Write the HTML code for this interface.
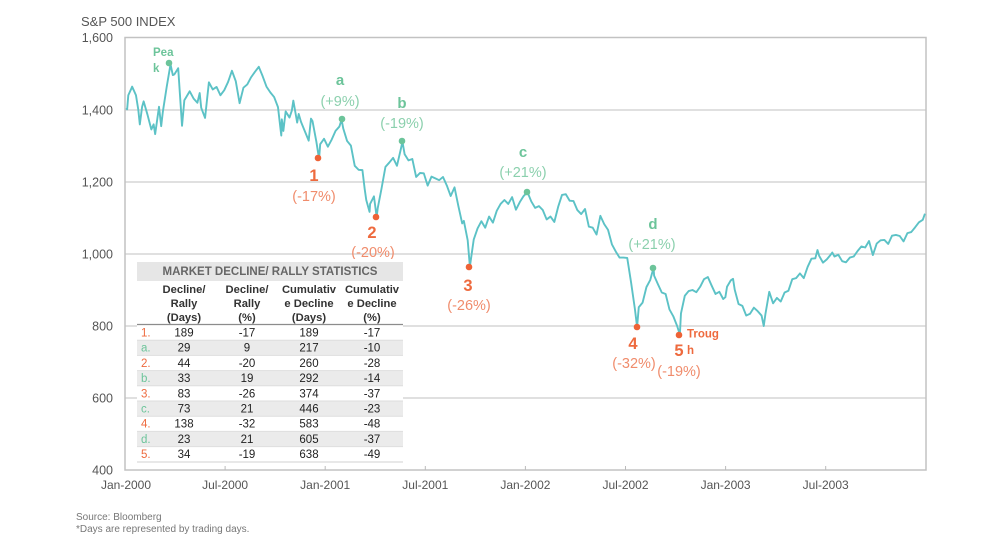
<!DOCTYPE html>
<html>
<head>
<meta charset="utf-8">
<style>
  html,body{margin:0;padding:0;background:#fff;}
  body{width:1005px;height:537px;overflow:hidden;}
  svg{display:block;font-family:"Liberation Sans",Arial,sans-serif;}
</style>
</head>
<body>
<svg width="1005" height="537" viewBox="0 0 1005 537" xmlns="http://www.w3.org/2000/svg">
  <rect width="1005" height="537" fill="#fff"/>

  <!-- title -->
  <text x="81" y="26" font-size="13" fill="#555">S&amp;P 500 INDEX</text>

  <!-- gridlines -->
  <g stroke="#cdcdcd" stroke-width="1.3">
    <line x1="125" y1="110" x2="926" y2="110"/>
    <line x1="125" y1="182" x2="926" y2="182"/>
    <line x1="125" y1="254" x2="926" y2="254"/>
    <line x1="125" y1="326" x2="926" y2="326"/>
    <line x1="125" y1="398" x2="926" y2="398"/>
  </g>
  <!-- frame -->
  <rect x="125" y="37.5" width="801" height="432.5" fill="none" stroke="#c2c2c2" stroke-width="1.5"/>
  <!-- ticks -->
  <g stroke="#bbb" stroke-width="1">
    <line x1="225.1" y1="466" x2="225.1" y2="470"/>
    <line x1="325.2" y1="466" x2="325.2" y2="470"/>
    <line x1="425.3" y1="466" x2="425.3" y2="470"/>
    <line x1="525.4" y1="466" x2="525.4" y2="470"/>
    <line x1="625.5" y1="466" x2="625.5" y2="470"/>
    <line x1="725.6" y1="466" x2="725.6" y2="470"/>
    <line x1="825.7" y1="466" x2="825.7" y2="470"/>
  </g>

  <!-- y labels -->
  <g font-size="12.5" fill="#555" text-anchor="end">
    <text x="113" y="42">1,600</text>
    <text x="113" y="114.5">1,400</text>
    <text x="113" y="186.5">1,200</text>
    <text x="113" y="258.5">1,000</text>
    <text x="113" y="330.5">800</text>
    <text x="113" y="402.5">600</text>
    <text x="113" y="474.5">400</text>
  </g>
  <!-- x labels -->
  <g font-size="12" fill="#555" text-anchor="middle">
    <text x="126" y="489">Jan-2000</text>
    <text x="225.1" y="489">Jul-2000</text>
    <text x="325.2" y="489">Jan-2001</text>
    <text x="425.3" y="489">Jul-2001</text>
    <text x="525.4" y="489">Jan-2002</text>
    <text x="625.5" y="489">Jul-2002</text>
    <text x="725.6" y="489">Jan-2003</text>
    <text x="825.7" y="489">Jul-2003</text>
  </g>

  <!-- series -->
  <g transform="matrix(3.838 0 0 -0.36 128.3 614)">
    <polyline fill="none" stroke="#5cc2c6" stroke-width="1.9" vector-effect="non-scaling-stroke" stroke-linejoin="round"
      points="-0.57,1405 -0.3,1402 0,1441 0.6,1455 1,1465 2,1441 2.6,1401 3,1360 3.6,1409 4,1424 5,1387 6,1346 6.6,1360 7,1333 8,1409 8.57,1355 9,1395 10,1464 11,1527 11.6,1497 12,1499 13,1516 14,1356 14.6,1427 15,1434 16,1452 17,1432 18,1420 18.6,1447 19,1406 20,1378 21,1477 22,1457 23,1464 24,1441 25,1455 26,1478 27,1509 28,1480 29,1419 30,1462 31,1471 32,1491 33,1506 34,1520 35,1494 36,1465 37,1449 38,1436 39,1408 39.86,1329 40,1374 40.4,1342 41,1396 42,1379 42.6,1398 43,1426 44,1365 44.4,1389 45,1367 46,1341 47,1315 47.6,1376 48,1369 49,1312 49.71,1264 50,1305 51,1320
      52,1298 53,1318 54,1342 55,1354 55.57,1373 56,1349 57,1314 58,1301 59,1245 60,1234 61,1233 61.6,1180 62,1150 62.86,1117 63,1139 64,1160 64.71,1103 65,1128 66,1183 67,1242 68,1254 69,1267 70,1245 71,1291 71.43,1312 72,1277 73,1260 74,1264 75,1214 76,1225 77,1224 78,1190 79,1215 80,1210 81,1205 82,1214 83,1190 84,1161 85,1185 86,1133 87,1085 87.43,1092 88.43,1038 89,965 90,1040 91,1071 92,1091 93,1073 94,1104 95,1087 96,1120 97,1139 98,1150 99,1139 100,1158 101,1123 102,1144 103,1161
      104,1172 105,1146 106,1128 107,1133 108,1122 109,1096 110,1104 111,1089 112,1131 113,1164 114,1166 115,1148 116,1147 117,1122 118,1111 119,1125 120,1076 121,1073 122,1054 123,1106 124,1083 125,1067 126,1027 127,1007 128,990 129,990 130,989 131,921 132,847 132.57,797 133,852 134,865 135,908 136,928 136.86,962 137,940 138,916 139,893 140,889 141,846 142,827 143,800 143.71,776 144,835 145,884 146,897 147,900 148,894 149,909 150,930 151,936 152,912 153,889 154,895 155,875 155.57,880
      156,909 157,927 157.57,931 158,901 159,861 160,856 161,829 162,834 163,851 164,841 165,829 165.57,800 166,833 167,895 168,863 169,878 170,868 171,893 172,898 173,930 174,933 175,946 176,933 177,964 178,987 179,988 179.57,1011 180,995 181,976 182,985 183,998 183.43,1004 184,993 185,998 186,980 187,977 188,990 189,993 190,1008 191,1021 192,1018 193,1036 194,997 195,1029 196,1038 197,1039 198,1028 199,1051 200,1053 201,1050 202,1035 203,1058 204,1061 205,1074 206,1088 207,1095 207.57,1112"/>
  </g>

  <!-- dots -->
  <g fill="#6cc49a">
    <circle cx="169" cy="63" r="3.3"/>
    <circle cx="342" cy="119" r="3.3"/>
    <circle cx="402" cy="141" r="3.3"/>
    <circle cx="527" cy="192" r="3.3"/>
    <circle cx="653" cy="268" r="3.3"/>
  </g>
  <g fill="#ee6236">
    <circle cx="318" cy="158" r="3.3"/>
    <circle cx="376" cy="217" r="3.3"/>
    <circle cx="469" cy="267" r="3.3"/>
    <circle cx="637" cy="327" r="3.3"/>
    <circle cx="679" cy="335" r="3.3"/>
  </g>

  <!-- green annotations -->
  <g fill="#6cc49a" font-weight="bold">
    <text x="153" y="56" font-size="11.5">Pea</text>
    <text x="153" y="72" font-size="11.5">k</text>
    <g font-size="15" text-anchor="middle">
      <text x="340" y="85">a</text>
      <text x="402" y="108">b</text>
      <text x="523" y="157">c</text>
      <text x="653" y="229">d</text>
    </g>
  </g>
  <g fill="#8bd0ad" font-size="14.5" text-anchor="middle">
    <text x="340" y="106">(+9%)</text>
    <text x="402" y="128">(-19%)</text>
    <text x="523" y="177">(+21%)</text>
    <text x="652" y="249">(+21%)</text>
  </g>

  <!-- orange annotations -->
  <g fill="#ee6a3e" font-weight="bold" font-size="16.5" text-anchor="middle">
    <text x="314" y="181">1</text>
    <text x="372" y="238">2</text>
    <text x="468" y="291">3</text>
    <text x="633" y="349">4</text>
    <text x="679" y="356">5</text>
  </g>
  <g fill="#ee6a3e" font-weight="bold" font-size="11.5">
    <text x="687" y="337.5">Troug</text>
    <text x="687" y="354">h</text>
  </g>
  <g fill="#f08c6c" font-size="14.5" text-anchor="middle">
    <text x="314" y="201">(-17%)</text>
    <text x="373" y="257">(-20%)</text>
    <text x="469" y="310">(-26%)</text>
    <text x="634" y="368">(-32%)</text>
    <text x="679" y="376">(-19%)</text>
  </g>

  <!-- table -->
  <rect x="137" y="259" width="266" height="207" fill="#fff"/>
  <rect x="137" y="262" width="266" height="19" fill="#e6e6e6"/>
  <text x="270" y="275" font-size="11.5" font-weight="bold" fill="#666" text-anchor="middle">MARKET DECLINE/ RALLY STATISTICS</text>
  <g font-size="11.2" font-weight="bold" fill="#333" text-anchor="middle">
    <text x="184" y="293">Decline/</text>
    <text x="184" y="307">Rally</text>
    <text x="184" y="321">(Days)</text>
    <text x="247" y="293">Decline/</text>
    <text x="247" y="307">Rally</text>
    <text x="247" y="321">(%)</text>
    <text x="309" y="293">Cumulativ</text>
    <text x="309" y="307">e Decline</text>
    <text x="309" y="321">(Days)</text>
    <text x="372" y="293">Cumulativ</text>
    <text x="372" y="307">e Decline</text>
    <text x="372" y="321">(%)</text>
  </g>
  <!-- row backgrounds -->
  <g fill="#ebebeb">
    <rect x="137" y="340.2" width="266" height="15.2"/>
    <rect x="137" y="370.6" width="266" height="15.2"/>
    <rect x="137" y="401" width="266" height="15.2"/>
    <rect x="137" y="431.4" width="266" height="15.2"/>
  </g>
  <g stroke="#dedede" stroke-width="1">
    <line x1="137" y1="340.2" x2="403" y2="340.2"/>
    <line x1="137" y1="355.4" x2="403" y2="355.4"/>
    <line x1="137" y1="370.6" x2="403" y2="370.6"/>
    <line x1="137" y1="385.8" x2="403" y2="385.8"/>
    <line x1="137" y1="401" x2="403" y2="401"/>
    <line x1="137" y1="416.2" x2="403" y2="416.2"/>
    <line x1="137" y1="431.4" x2="403" y2="431.4"/>
    <line x1="137" y1="446.6" x2="403" y2="446.6"/>
    <line x1="137" y1="462" x2="403" y2="462" stroke="#d0d0d0"/>
  </g>
  <line x1="137" y1="324.5" x2="403" y2="324.5" stroke="#8c8c8c" stroke-width="1.2"/>

  <g font-size="11.5">
    <g fill="#ee6a3e">
      <text x="141" y="336.5">1.</text>
      <text x="141" y="366.9">2.</text>
      <text x="141" y="397.3">3.</text>
      <text x="141" y="427.7">4.</text>
      <text x="141" y="458.1">5.</text>
    </g>
    <g fill="#6cc49a">
      <text x="141" y="351.7">a.</text>
      <text x="141" y="382.1">b.</text>
      <text x="141" y="412.5">c.</text>
      <text x="141" y="442.9">d.</text>
    </g>
    <g fill="#222" text-anchor="middle">
      <text x="184" y="336.5">189</text><text x="247" y="336.5">-17</text><text x="309" y="336.5">189</text><text x="372" y="336.5">-17</text>
      <text x="184" y="351.7">29</text><text x="247" y="351.7">9</text><text x="309" y="351.7">217</text><text x="372" y="351.7">-10</text>
      <text x="184" y="366.9">44</text><text x="247" y="366.9">-20</text><text x="309" y="366.9">260</text><text x="372" y="366.9">-28</text>
      <text x="184" y="382.1">33</text><text x="247" y="382.1">19</text><text x="309" y="382.1">292</text><text x="372" y="382.1">-14</text>
      <text x="184" y="397.3">83</text><text x="247" y="397.3">-26</text><text x="309" y="397.3">374</text><text x="372" y="397.3">-37</text>
      <text x="184" y="412.5">73</text><text x="247" y="412.5">21</text><text x="309" y="412.5">446</text><text x="372" y="412.5">-23</text>
      <text x="184" y="427.7">138</text><text x="247" y="427.7">-32</text><text x="309" y="427.7">583</text><text x="372" y="427.7">-48</text>
      <text x="184" y="442.9">23</text><text x="247" y="442.9">21</text><text x="309" y="442.9">605</text><text x="372" y="442.9">-37</text>
      <text x="184" y="458.1">34</text><text x="247" y="458.1">-19</text><text x="309" y="458.1">638</text><text x="372" y="458.1">-49</text>
    </g>
  </g>

  <!-- footer -->
  <g font-size="10" fill="#777">
    <text x="76" y="520">Source: Bloomberg</text>
    <text x="76" y="532">*Days are represented by trading days.</text>
  </g>
</svg>
</body>
</html>
